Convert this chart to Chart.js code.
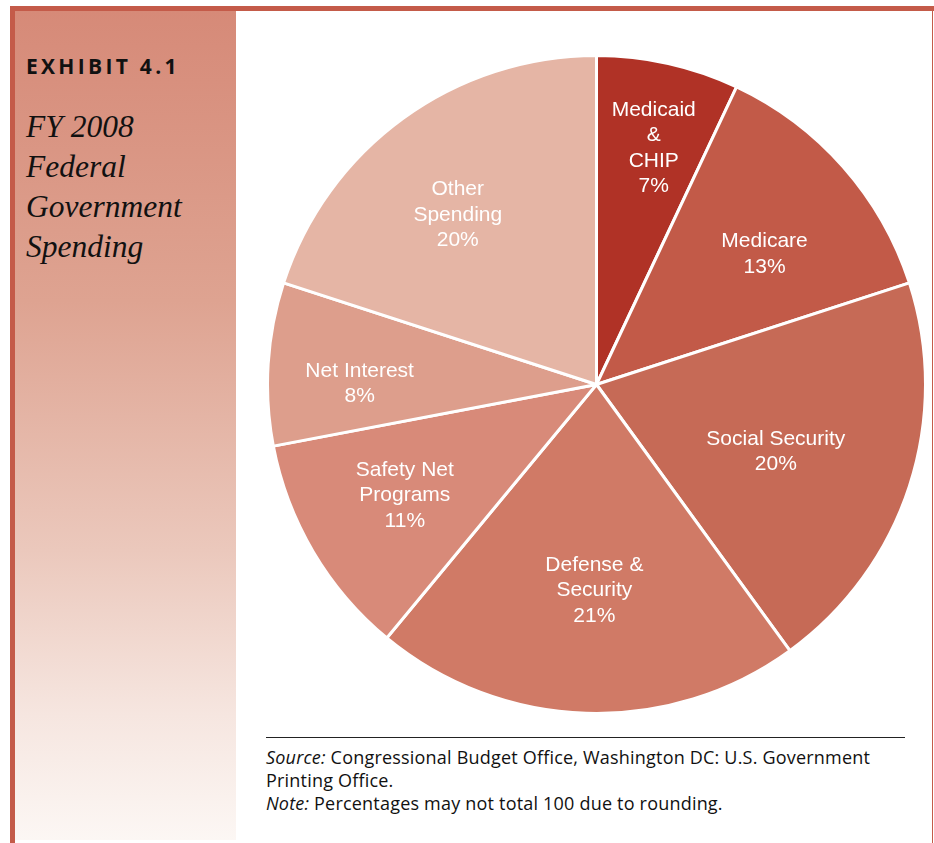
<!DOCTYPE html>
<html>
<head>
<meta charset="utf-8">
<script src="https://cdn.jsdelivr.net/npm/chart.js@4.4.0/dist/chart.umd.min.js"></script>
<style>
  html, body { margin: 0; padding: 0; background: #fff; }
  body { width: 934px; height: 843px; position: relative; overflow: hidden; }
  .topbar { position: absolute; left: 10px; top: 6px; width: 924px; height: 5px; background: #c45b49; }
  .leftbar { position: absolute; left: 10px; top: 6px; width: 5px; height: 837px; background: #c45b49; }
  .rightbar { position: absolute; left: 932px; top: 11px; width: 1px; height: 832px; background: #c45b49; }
  .side { position: absolute; left: 15px; top: 11px; width: 221px; height: 829px;
          background: linear-gradient(to bottom, #d68a78 0%, #dea391 35%, #ebc8bc 65%, #f6e6e0 85%, #fcf7f4 100%); }
  .exhibit { position: absolute; left: 26px; top: 52px; font-family: "Open Sans", "DejaVu Sans", sans-serif;
             font-weight: 700; font-size: 21px; letter-spacing: 3.3px; color: #111; line-height: normal; }
  .title { position: absolute; left: 26px; top: 107px; font-family: "Liberation Serif", serif; font-style: italic;
           font-size: 31.5px; line-height: 40px; color: #111; }
  .chartbox { position: absolute; left: 266px; top: 54px; width: 661px; height: 661px; }
  .rule { position: absolute; left: 266px; top: 737px; width: 639px; height: 1px; background: #222; }
  .notes { position: absolute; left: 266px; top: 746px; font-family: "Open Sans", sans-serif; font-size: 18px;
           letter-spacing: 0.2px; line-height: 23px; color: #111; white-space: nowrap; }
</style>
</head>
<body>
<div class="side"></div>
<div class="topbar"></div>
<div class="leftbar"></div>
<div class="rightbar"></div>
<div class="exhibit">EXHIBIT 4.1</div>
<div class="title">FY 2008<br>Federal<br>Government<br>Spending</div>
<div class="chartbox"><canvas id="pie"></canvas></div>
<div class="rule"></div>
<div class="notes"><i>Source:</i> Congressional Budget Office, Washington DC: U.S. Government<br>Printing Office.<br><i>Note:</i> Percentages may not total 100 due to rounding.</div>
<script>
// categories and shares (percent), clockwise from 12 o'clock
const categories = [
  ['Medicaid', '&', 'CHIP'],
  ['Medicare'],
  ['Social Security'],
  ['Defense &', 'Security'],
  ['Safety Net', 'Programs'],
  ['Net Interest'],
  ['Other', 'Spending']
];
const shares = [7, 13, 20, 21, 11, 8, 20];
const sliceColors = ['#b03226', '#c25a48', '#c66a56', '#d07a66', '#d88a79', '#dd9e8c', '#e5b5a5'];

// where each label sits: fraction of radius, angle nudge (deg)
const labelRadius = [0.745, 0.65, 0.58, 0.62, 0.67, 0.72, 0.67];
const labelNudge = [0.9, 3.2, 2, -1.2, 1, -2.9, -3];

const sliceLabels = {
  id: 'sliceLabels',
  afterDatasetsDraw(chart) {
    const ctx = chart.ctx;
    const meta = chart.getDatasetMeta(0);
    ctx.save();
    ctx.fillStyle = '#fff';
    ctx.font = '21px "Liberation Sans", Arial, sans-serif';
    ctx.textAlign = 'center';
    ctx.textBaseline = 'middle';
    meta.data.forEach((arc, i) => {
      const p = arc.getProps(['x', 'y', 'startAngle', 'endAngle', 'outerRadius'], true);
      const a = (p.startAngle + p.endAngle) / 2 + labelNudge[i] * Math.PI / 180;
      const r = p.outerRadius * labelRadius[i];
      const cx = p.x + Math.cos(a) * r;
      const cy = p.y + Math.sin(a) * r;
      const lines = categories[i].concat([shares[i] + '%']);
      const lh = 25.5;
      lines.forEach((t, k) => {
        ctx.fillText(t, cx, cy + (k - (lines.length - 1) / 2) * lh + 2);
      });
    });
    ctx.restore();
  }
};

new Chart(document.getElementById('pie'), {
  type: 'pie',
  data: {
    labels: categories,
    datasets: [{
      data: shares,
      backgroundColor: sliceColors,
      borderColor: '#fff',
      borderWidth: 3
    }]
  },
  options: {
    responsive: true,
    maintainAspectRatio: false,
    animation: false,
    layout: { padding: 0 },
    plugins: {
      legend: { display: false },
      tooltip: { enabled: false }
    }
  },
  plugins: [sliceLabels]
});
</script>
</body>
</html>
